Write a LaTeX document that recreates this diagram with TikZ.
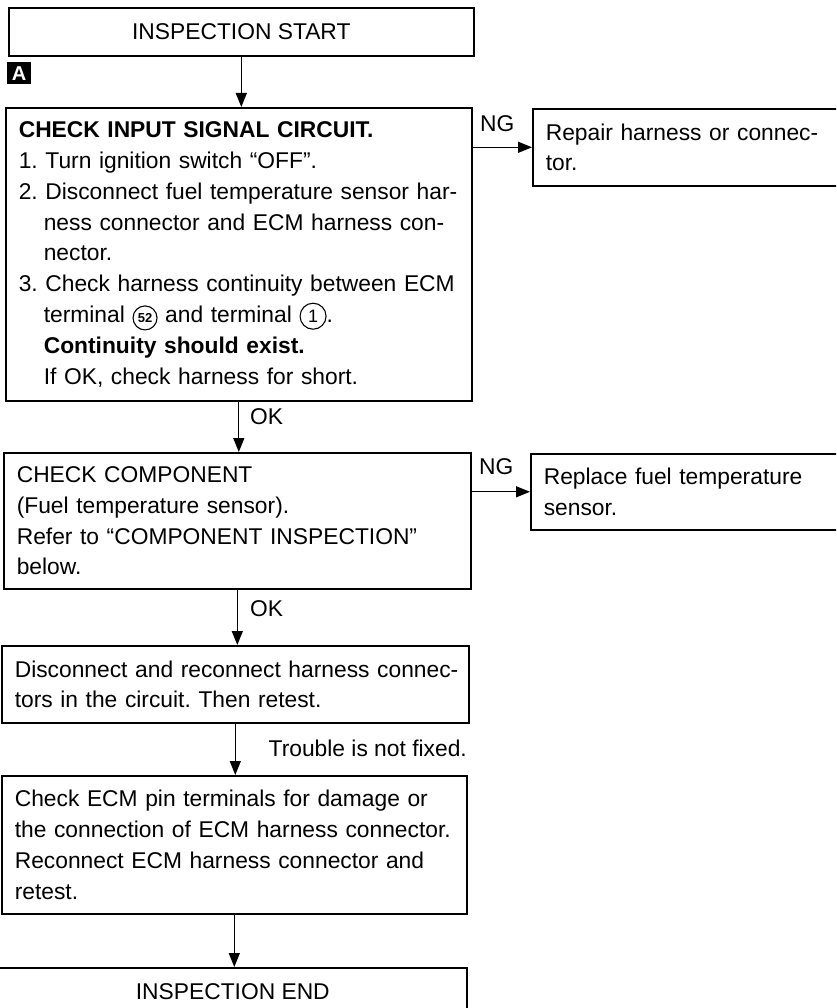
\documentclass[tikz,border=0pt]{standalone}
\usepackage{fontspec}
\setmainfont{Liberation Sans}
\usetikzlibrary{arrows.meta}

% body text size and line pitch of the flow chart
\newcommand\bodyfont{\fontsize{22.8pt}{30.8pt}\selectfont\frenchspacing}
% one unbreakable text line
\newcommand\tline[1]{\mbox{#1}}
% terminal number in a ring: radius, font, number
\newcommand\ringnum[3]{\tikz[baseline=(rn.base)]{%
  \node[draw=none, inner sep=0pt, minimum width=0pt, minimum height=0pt,
        text width=, align=center, anchor=center, font=#2] (rn) at (0,0) {#3};
  \draw[line width=1.1pt] (rn.center) circle[radius=#1];}}

\begin{document}
\begin{tikzpicture}[x=1pt,y=-1pt,
  box/.style={draw, line width=1.6pt, anchor=north west, inner xsep=13pt, inner ysep=0pt, align=left, font=\bodyfont},
  cbox/.style={box, align=center},
  arr/.style={line width=1.3pt, -{Triangle[length=14pt,width=11pt]}},
  lbl/.style={font=\bodyfont, inner sep=0pt}]
\useasboundingbox (0,0) rectangle (836,1008);
\clip (0,0) rectangle (836,1008);

% main column
\node[cbox, minimum width=465pt, minimum height=48pt] (start) at (8,7) {INSPECTION START};

\node[fill=black, text=white, font=\fontsize{20pt}{20pt}\selectfont\bfseries,
      minimum width=24pt, minimum height=22pt, inner sep=0pt, anchor=north west] (tagA) at (7,62) {A};

\node[box, text width=440pt, minimum height=293pt] (chk) at (5,107) {%
\tline{\textbf{CHECK INPUT SIGNAL CIRCUIT.}}\\
\tline{1. Turn ignition switch “OFF”.}\\
\tline{2. Disconnect fuel temperature sensor har-}\\
\tline{\hspace*{25pt}ness connector and ECM harness con-}\\
\tline{\hspace*{25pt}nector.}\\
\tline{3. Check harness continuity between ECM}\\
\tline{\hspace*{25pt}terminal \ringnum{12pt}{\fontsize{13pt}{13pt}\selectfont\bfseries}{52} and terminal \ringnum{13pt}{\fontsize{18pt}{18pt}\selectfont}{1}.}\\
\tline{\hspace*{25pt}\textbf{Continuity should exist.}}\\
\tline{\hspace*{25pt}If OK, check harness for short.}};

\node[box, text width=441pt, minimum height=136pt] (comp) at (3,452) {%
\tline{CHECK COMPONENT}\\
\tline{(Fuel temperature sensor).}\\
\tline{Refer to “COMPONENT INSPECTION”}\\
\tline{below.}};

\node[box, text width=441pt, minimum height=77pt] (recon) at (1,645) {%
\tline{Disconnect and reconnect harness connec-}\\
\tline{tors in the circuit. Then retest.}};

\node[box, text width=439pt, minimum height=138pt] (ecm) at (1,775) {%
\tline{Check ECM pin terminals for damage or}\\
\tline{the connection of ECM harness connector.}\\
\tline{Reconnect ECM harness connector and}\\
\tline{retest.}};

\node[cbox, minimum width=468pt, minimum height=48pt] (finish) at (-2,967) {INSPECTION END};

% side column
\node[box, text width=282pt, minimum height=77pt] (rep) at (532,108) {%
\tline{Repair harness or connec-}\\
\tline{tor.}};

\node[box, text width=284pt, minimum height=76pt] (repl) at (530,453) {%
\tline{Replace fuel temperature}\\
\tline{sensor.}};

% connectors
\draw[arr] (start.south) -- (start.south |- chk.north);
\draw[arr] (chk.south) -- (chk.south |- comp.north);
\draw[arr] (comp.south) -- (comp.south |- recon.north);
\draw[arr] (recon.south) -- (recon.south |- ecm.north);
\draw[arr] (ecm.south) -- (ecm.south |- finish.north);
\draw[arr] (chk.east |- rep.west) -- (rep.west);
\draw[arr] (comp.east |- repl.west) -- (repl.west);

% connector labels
\node[lbl, anchor=west] (ng1) at (480,124) {NG};
\node[lbl, anchor=west] (ok1) at (250,417) {OK};
\node[lbl, anchor=west] (ng2) at (479,467) {NG};
\node[lbl, anchor=west] (ok2) at (250,609) {OK};
\node[lbl, anchor=east] (trb) at (467,748) {Trouble is not fixed.};
\end{tikzpicture}
\end{document}
